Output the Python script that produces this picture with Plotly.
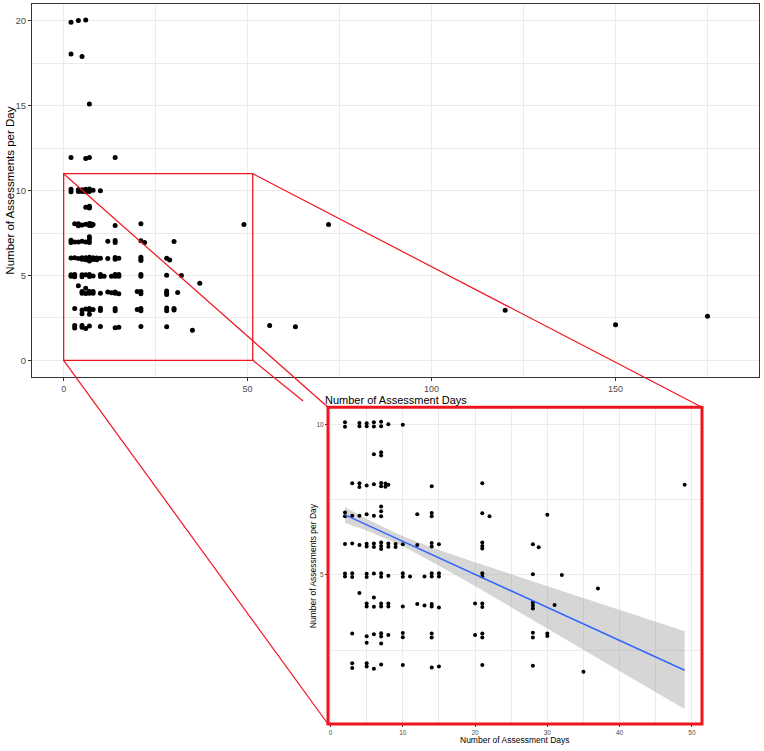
import numpy as np
import plotly.graph_objects as go

# ---------------- data ----------------
days = [2, 2, 4, 4, 5, 5, 6, 6, 7, 7, 8, 10,
        6, 7, 7,
        3, 4, 4, 5, 6, 7, 7, 7.6, 7.6, 8, 14, 21, 49,
        2, 2, 3, 4, 5, 6, 7, 7, 7, 12, 14, 14, 21, 22, 30,
        2, 3, 4, 5, 5, 6, 6, 7, 7, 7, 8, 8, 9, 9, 10, 12, 14, 14, 15, 21, 21, 21, 28, 28.8,
        2, 2, 3, 3, 5, 5, 6, 7, 7, 8, 10, 10, 11, 13, 14, 14, 15, 15, 21, 21, 28, 32,
        4, 6, 37,
        5, 5, 6, 7, 7, 8, 8, 10, 12, 13, 14, 14, 15, 20, 21, 21, 28, 28, 28, 31,
        3, 5, 5, 6, 7, 7, 7, 8, 10, 10, 14, 14, 20, 21, 21, 28, 28, 30, 30,
        3, 3, 5, 5, 6, 7, 10, 14, 15, 21, 28, 35,
        2, 4, 6, 2, 5, 7, 2, 6, 7, 14, 72, 56, 63, 120, 150, 175]
per_day = [10.08, 9.93, 10.06, 9.95, 10.05, 9.95, 10.08, 9.94, 10.1, 9.95, 10.02, 10.0,
           9.02, 9.08, 8.98,
           8.05, 8.05, 7.93, 7.98, 8.02, 8.06, 7.95, 8.04, 7.94, 8.0, 7.95, 8.05, 8.0,
           7.08, 6.95, 6.97, 6.97, 7.02, 6.97, 7.28, 7.12, 6.95, 7.02, 7.06, 6.95, 7.05, 6.95, 7.0,
           6.03, 6.05, 6.0, 6.04, 5.95, 6.05, 5.93, 6.08, 5.96, 5.86, 6.05, 5.94, 6.03, 5.93, 6.02, 6.0, 6.06, 5.95, 6.02, 6.08, 5.96, 5.88, 6.02, 5.92,
           5.05, 4.95, 5.06, 4.93, 5.04, 4.93, 5.05, 5.06, 4.94, 4.97, 5.06, 4.94, 4.95, 4.95, 5.06, 4.95, 5.06, 4.95, 5.06, 4.95, 5.02, 5.0,
           4.4, 4.25, 4.55,
           4.05, 3.95, 3.94, 4.05, 3.95, 4.05, 3.95, 3.95, 4.03, 3.98, 4.03, 3.95, 3.92, 4.05, 4.05, 3.93, 4.08, 3.98, 3.88, 4.0,
           3.05, 2.96, 2.74, 3.03, 3.06, 2.95, 2.72, 3.0, 3.07, 2.93, 3.05, 2.92, 3.0, 3.05, 2.92, 3.08, 2.92, 3.05, 2.97,
           2.06, 1.9, 2.06, 1.95, 1.88, 2.02, 2.0, 1.92, 1.95, 2.0, 1.98, 1.78,
           19.92, 20.03, 20.05, 18.05, 17.9, 15.1, 11.95, 11.9, 11.95, 11.95, 8.0, 2.05, 1.98, 2.95, 2.1, 2.6]

# linear smooth (geom_smooth, method = "lm"): line and 95% band
fit_x = [2, 5, 10, 15, 20, 25, 30, 35, 40, 45, 49]
fit_y = [7.0, 6.67, 6.12, 5.57, 5.02, 4.47, 3.92, 3.37, 2.82, 2.27, 1.83]
fit_hi = [7.26, 6.86, 6.29, 5.83, 5.42, 5.02, 4.62, 4.23, 3.83, 3.44, 3.13]
fit_lo = [6.74, 6.48, 5.96, 5.31, 4.63, 3.92, 3.22, 2.51, 1.81, 1.10, 0.54]

main_x_ticks = [0, 50, 100, 150]
main_y_ticks = [0, 5, 10, 15, 20]
inset_x_ticks = [0, 10, 20, 30, 40, 50]
inset_y_ticks = [5, 10]
zoom_box_x = [0, 51.4]
zoom_box_y = [0, 11]

x_title = "Number of Assessment Days"
y_title = "Number of Assessments per Day"

# ---------------- geometry / styling ----------------
W, H = 764, 751
main_xr = [-8.6, 189.0]
main_yr = [-1.0, 21.0]
ins_xr = [-0.35, 51.4]
ins_yr = [0.04, 10.58]
main_dx = [32 / W, 759 / W]
main_dy = [1 - 377.3 / H, 1 - 4 / H]
ins_dx = [328 / W, 702 / W]
ins_dy = [1 - 724 / H, 1 - 407.3 / H]
FONT = "Liberation Sans, Arial, sans-serif"
RED = "#F0141E"
GRID = "#EBEBEB"

d = np.array(days, float)
v = np.array(per_day, float)
mask = (d <= zoom_box_x[1]) & (v <= ins_yr[1])
xi, yi = d[mask], v[mask]

fig = go.Figure()
fig.add_trace(go.Scatter(x=d, y=v, mode="markers", xaxis="x", yaxis="y",
                         marker=dict(color="black", size=5), showlegend=False,
                         hoverinfo="skip"))
fig.add_trace(go.Scatter(x=fit_x + fit_x[::-1], y=fit_hi + fit_lo[::-1],
                         fill="toself", fillcolor="rgba(153,153,153,0.4)", line=dict(width=0),
                         xaxis="x2", yaxis="y2", showlegend=False, hoverinfo="skip"))
fig.add_trace(go.Scatter(x=xi, y=yi, mode="markers", xaxis="x2", yaxis="y2",
                         marker=dict(color="black", size=4), showlegend=False,
                         hoverinfo="skip"))
fig.add_trace(go.Scatter(x=fit_x, y=fit_y, mode="lines", xaxis="x2", yaxis="y2",
                         line=dict(color="#3366FF", width=1.5), showlegend=False,
                         hoverinfo="skip"))

ax_common = dict(showgrid=True, gridcolor=GRID, gridwidth=1, zeroline=False,
                 ticks="outside", tickcolor="#333333", tickwidth=1)

fig.update_layout(
    width=W, height=H, margin=dict(l=0, r=0, t=0, b=0),
    paper_bgcolor="white", plot_bgcolor="white",
    font=dict(family=FONT, color="black"),
    xaxis=dict(domain=main_dx, range=main_xr, tickvals=main_x_ticks, ticklen=3,
               showline=True, linecolor="#333333", linewidth=1, mirror=True,
               tickfont=dict(size=9, color="#4D4D4D"),
               minor=dict(tickvals=[25, 75, 125, 175], showgrid=True, gridcolor=GRID,
                          gridwidth=0.6, ticks=""),
               anchor="y", **ax_common),
    yaxis=dict(domain=main_dy, range=main_yr, tickvals=main_y_ticks, ticklen=3,
               showline=True, linecolor="#333333", linewidth=1, mirror=True,
               tickfont=dict(size=9.5, color="#4D4D4D"),
               minor=dict(tickvals=[2.5, 7.5, 12.5, 17.5], showgrid=True, gridcolor=GRID,
                          gridwidth=0.6, ticks=""),
               anchor="x", **ax_common),
    xaxis2=dict(domain=ins_dx, range=ins_xr, tickvals=inset_x_ticks, ticklen=2,
                showline=False, tickfont=dict(size=6.5, color="#4D4D4D"),
                minor=dict(tickvals=[5, 15, 25, 35, 45], showgrid=True, gridcolor=GRID,
                           gridwidth=0.6, ticks=""),
                anchor="y2", **ax_common),
    yaxis2=dict(domain=ins_dy, range=ins_yr, tickvals=inset_y_ticks, ticklen=2,
                showline=False, tickfont=dict(size=6.5, color="#4D4D4D"),
                minor=dict(tickvals=[2.5, 7.5], showgrid=True, gridcolor=GRID,
                           gridwidth=0.6, ticks=""),
                anchor="x2", **ax_common),
)


def main_to_paper(x, y):
    px = main_dx[0] + (x - main_xr[0]) / (main_xr[1] - main_xr[0]) * (main_dx[1] - main_dx[0])
    py = main_dy[0] + (y - main_yr[0]) / (main_yr[1] - main_yr[0]) * (main_dy[1] - main_dy[0])
    return px, py


# zoom box on main plot
fig.add_shape(type="rect", xref="x", yref="y", x0=zoom_box_x[0], x1=zoom_box_x[1],
              y0=zoom_box_y[0], y1=zoom_box_y[1], line=dict(color=RED, width=1.3))

# connector lines: box corners -> inset corners
tl = main_to_paper(zoom_box_x[0], zoom_box_y[1])
bl = main_to_paper(zoom_box_x[0], zoom_box_y[0])
tr = main_to_paper(zoom_box_x[1], zoom_box_y[1])
br = main_to_paper(zoom_box_x[1], zoom_box_y[0])
itl = (ins_dx[0], ins_dy[1])
ibl = (ins_dx[0], ins_dy[0])
itr = (ins_dx[1], ins_dy[1])
ibr = (ins_dx[1], ins_dy[0])
for a, b, frac in [(tl, itl, 1.0), (bl, ibl, 1.0), (tr, itr, 1.0), (br, ibr, 0.112)]:
    fig.add_shape(type="line", xref="paper", yref="paper",
                  x0=a[0], y0=a[1], x1=a[0] + (b[0] - a[0]) * frac, y1=a[1] + (b[1] - a[1]) * frac,
                  line=dict(color=RED, width=1.2))

# inset border
fig.add_shape(type="rect", xref="paper", yref="paper", x0=ins_dx[0], x1=ins_dx[1],
              y0=ins_dy[0], y1=ins_dy[1], line=dict(color=RED, width=3))

# axis titles
fig.add_annotation(x=(main_dx[0] + main_dx[1]) / 2, y=1 - 400 / H, xref="paper", yref="paper",
                   text=x_title, showarrow=False, font=dict(size=11, color="black"),
                   xanchor="center", yanchor="middle")
fig.add_annotation(x=10 / W, y=(main_dy[0] + main_dy[1]) / 2, xref="paper", yref="paper",
                   text=y_title, showarrow=False, textangle=-90, font=dict(size=11.5, color="black"),
                   xanchor="center", yanchor="middle")
fig.add_annotation(x=(ins_dx[0] + ins_dx[1]) / 2, y=1 - 740 / H, xref="paper", yref="paper",
                   text=x_title, showarrow=False, font=dict(size=8.5, color="black"),
                   xanchor="center", yanchor="middle")
fig.add_annotation(x=312.5 / W, y=(ins_dy[0] + ins_dy[1]) / 2, xref="paper", yref="paper",
                   text=y_title, showarrow=False, textangle=-90, font=dict(size=8.5, color="black"),
                   xanchor="center", yanchor="middle")

fig.write_html("out.html", config={"displayModeBar": False},
               post_script="document.body.style.margin='0px';")
